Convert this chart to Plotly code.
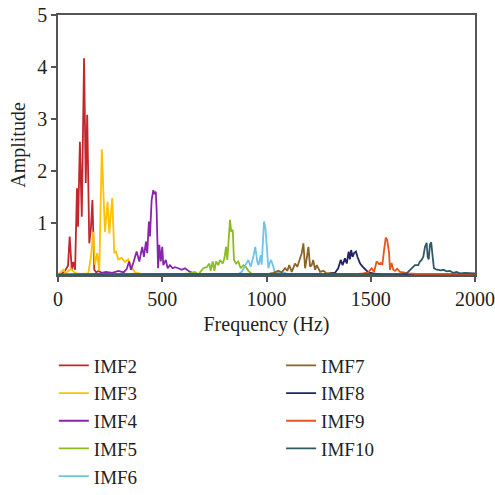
import plotly.graph_objects as go

names = ["IMF2", "IMF3", "IMF4", "IMF5", "IMF6", "IMF7", "IMF8", "IMF9", "IMF10"]
colors = ["#C1272D", "#FFC000", "#8A24AC", "#8BBD1E", "#6EC3EB",
          "#8C6425", "#232463", "#E8561A", "#2E5A66"]

f2 = [0, 15, 30, 40, 48, 56, 66, 73, 82, 91, 96, 105, 114, 125, 133, 140, 150, 158, 165, 174, 183, 195, 215, 250, 2000]
a2 = [0.0, 0.02, 0.06, 0.12, 0.18, 0.74, 0.1, 0.25, 0.1, 1.67, 0.93, 2.56, 1.12, 4.17, 1.77, 3.08, 0.61, 0.9, 1.44, 0.1, 0.05, 0.08, 0.03, 0.01, 0.0]

f3 = [0, 12, 25, 38, 50, 62, 75, 90, 110, 130, 145, 158, 169, 177, 188, 198, 210, 225, 238, 246, 260, 270, 278, 289, 305, 321, 337, 353, 370, 400, 2000]
a3 = [0.0, 0.05, 0.1, 0.04, 0.08, 0.12, 0.06, 0.03, 0.02, 0.02, 0.03, 0.35, 0.83, 0.2, 0.42, 0.08, 2.42, 0.83, 1.41, 0.8, 1.48, 0.42, 0.45, 0.3, 0.33, 0.25, 0.3, 0.15, 0.05, 0.02, 0.0]

f4 = [0, 150, 200, 230, 260, 290, 315, 330, 341, 350, 361, 377, 390, 404, 412, 422, 428, 436, 441, 449, 457, 462, 469, 473, 480, 486, 493, 500, 505, 517, 526, 537, 550, 561, 577, 593, 609, 633, 660, 2000]
a4 = [0.0, 0.01, 0.03, 0.06, 0.04, 0.08, 0.05, 0.12, 0.26, 0.1, 0.23, 0.45, 0.26, 0.54, 0.35, 0.64, 0.42, 1.03, 0.74, 1.44, 1.63, 1.57, 1.6, 1.25, 0.13, 0.58, 0.26, 0.54, 0.19, 0.29, 0.13, 0.19, 0.13, 0.15, 0.13, 0.1, 0.13, 0.06, 0.02, 0.0]

f5 = [0, 500, 600, 633, 657, 673, 697, 713, 726, 732, 742, 750, 758, 769, 777, 790, 798, 806, 812, 819, 825, 831, 838, 844, 854, 865, 876, 889, 902, 913, 929, 960, 2000]
a5 = [0.0, 0.01, 0.02, 0.03, 0.06, 0.01, 0.13, 0.15, 0.22, 0.08, 0.26, 0.08, 0.26, 0.19, 0.29, 0.22, 0.32, 0.54, 0.29, 0.71, 1.06, 0.83, 0.87, 0.29, 0.22, 0.26, 0.13, 0.19, 0.15, 0.08, 0.02, 0.01, 0.0]

f6 = [0, 700, 850, 865, 881, 897, 913, 924, 937, 946, 956, 962, 972, 977, 988, 995, 1001, 1009, 1017, 1022, 1033, 1041, 1052, 1065, 1080, 1110, 2000]
a6 = [0.0, 0.01, 0.01, 0.02, 0.06, 0.19, 0.29, 0.16, 0.35, 0.54, 0.25, 0.19, 0.38, 0.2, 1.03, 0.9, 0.58, 0.13, 0.25, 0.29, 0.16, 0.03, 0.06, 0.03, 0.05, 0.01, 0.0]

f7 = [0, 900, 1010, 1033, 1057, 1073, 1089, 1100, 1109, 1121, 1137, 1148, 1161, 1169, 1177, 1185, 1193, 1201, 1209, 1217, 1224, 1233, 1241, 1257, 1273, 1289, 1313, 1350, 2000]
a7 = [0.0, 0.01, 0.02, 0.04, 0.08, 0.05, 0.13, 0.08, 0.19, 0.06, 0.22, 0.16, 0.35, 0.42, 0.61, 0.13, 0.32, 0.54, 0.16, 0.19, 0.29, 0.1, 0.19, 0.06, 0.08, 0.03, 0.04, 0.01, 0.0]

f8 = [0, 1200, 1300, 1328, 1344, 1356, 1365, 1376, 1385, 1394, 1400, 1406, 1413, 1420, 1429, 1436, 1442, 1449, 1461, 1472, 1488, 1512, 1544, 2000]
a8 = [0.0, 0.01, 0.02, 0.04, 0.13, 0.29, 0.19, 0.32, 0.22, 0.45, 0.3, 0.48, 0.35, 0.42, 0.45, 0.35, 0.28, 0.22, 0.16, 0.12, 0.05, 0.03, 0.01, 0.0]

f9 = [0, 1300, 1440, 1464, 1488, 1504, 1516, 1528, 1540, 1548, 1556, 1565, 1572, 1579, 1588, 1592, 1600, 1608, 1616, 1627, 1640, 1656, 1680, 1720, 1850, 2000]
a9 = [0.0, 0.01, 0.02, 0.03, 0.05, 0.13, 0.06, 0.26, 0.21, 0.23, 0.21, 0.51, 0.72, 0.67, 0.42, 0.1, 0.23, 0.1, 0.08, 0.12, 0.06, 0.05, 0.03, 0.02, 0.02, 0.02]

f10 = [0, 1500, 1650, 1672, 1696, 1712, 1728, 1736, 1744, 1752, 1760, 1768, 1773, 1778, 1784, 1790, 1797, 1803, 1813, 1824, 1835, 1848, 1864, 1880, 1896, 1912, 1928, 1952, 1976, 2000]
a10 = [0.01, 0.01, 0.02, 0.03, 0.13, 0.19, 0.19, 0.26, 0.29, 0.35, 0.54, 0.62, 0.35, 0.3, 0.58, 0.63, 0.35, 0.13, 0.11, 0.1, 0.09, 0.1, 0.07, 0.08, 0.04, 0.06, 0.03, 0.04, 0.03, 0.03]

x_ticks = [0, 500, 1000, 1500, 2000]
y_ticks = [1, 2, 3, 4, 5]

series = [(f2, a2), (f3, a3), (f4, a4), (f5, a5), (f6, a6),
          (f7, a7), (f8, a8), (f9, a9), (f10, a10)]

FONT = "Liberation Serif, Times New Roman, serif"
fig = go.Figure()
for i, ((fx, ay), name, col) in enumerate(zip(series, names, colors)):
    fig.add_trace(go.Scatter(
        x=fx, y=ay, mode="lines", name=name,
        line=dict(color=col, width=1.8),
        legend="legend" if i < 5 else "legend2",
    ))

axis_common = dict(showline=True, linecolor="#555555", linewidth=1.5, mirror=True,
                   ticks="outside", tickcolor="#555555", ticklen=5, tickwidth=1.5,
                   showgrid=False, zeroline=False,
                   tickfont=dict(family=FONT, size=20, color="#231f20"))

fig.update_layout(
    width=495, height=495,
    margin=dict(l=58, r=20, t=15, b=220, autoexpand=False),
    paper_bgcolor="white", plot_bgcolor="white",
    font=dict(family=FONT, size=20, color="#231f20"),
    xaxis=dict(range=[0, 2000], tickvals=x_ticks,
               title=dict(text="Frequency (Hz)", font=dict(family=FONT, size=20), standoff=8),
               **axis_common),
    yaxis=dict(range=[0, 5], tickvals=y_ticks,
               title=dict(text="Amplitude", font=dict(family=FONT, size=20), standoff=6),
               **axis_common),
    legend=dict(x=-0.01, y=-0.275, xanchor="left", yanchor="top",
                font=dict(family=FONT, size=19), bgcolor="rgba(0,0,0,0)",
                tracegroupgap=0, itemwidth=30),
    legend2=dict(x=0.535, y=-0.275, xanchor="left", yanchor="top",
                 font=dict(family=FONT, size=19), bgcolor="rgba(0,0,0,0)",
                 tracegroupgap=0, itemwidth=30),
    showlegend=True,
)

fig.write_html("out.html")
